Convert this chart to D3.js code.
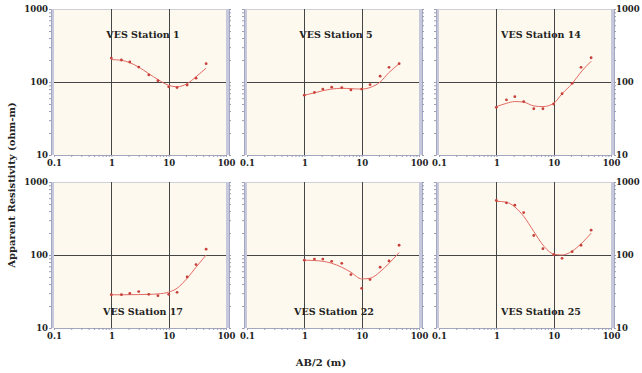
<!DOCTYPE html>
<html>
<head>
<meta charset="utf-8">
<script src="https://cdn.jsdelivr.net/npm/d3@7"></script>
<style>
  body { margin: 0; background: #fff; }
  svg text { font-family: "DejaVu Serif", serif; font-weight: bold; fill: #222; }
</style>
</head>
<body>
<svg id="chart" width="642" height="373"></svg>
<script>
// AB/2 spacing (m) - same for every station
const spacing = [1, 1.5, 2.1, 3, 4.5, 6.5, 10, 14, 21, 30, 45]

const stationNames = ['VES Station 1', 'VES Station 5', 'VES Station 14',
                      'VES Station 17', 'VES Station 22', 'VES Station 25']

// observed apparent resistivity (ohm-m)
const obs1  = [213, 200, 188, 160, 125, 104, 86, 84, 91, 113, 178]
const obs5  = [66, 72, 80, 85, 84, 78, 80, 92, 120, 159, 178]
const obs14 = [45, 57, 63, 54, 43, 43, 50, 69, 96, 159, 215]
const obs17 = [28.6, 28.6, 29.8, 31.5, 28.9, 27.7, 28.9, 30.8, 50, 74, 120]
const obs22 = [85, 88, 88, 82, 77, 54, 35, 46, 68, 83, 136]
const obs25 = [558, 518, 481, 381, 185, 122, 101, 90, 111, 136, 219]

// fitted model curves
const fit1  = [203, 198, 184, 160, 130, 108, 90, 86, 95, 118, 155]
const fit5  = [66, 71, 76, 80, 82, 81, 80, 84, 100, 135, 178]
const fit14 = [46, 51, 54, 53, 47, 46, 51, 69, 95, 137, 192]
const fit17 = [28.5, 28.5, 28.6, 28.7, 28.9, 29.3, 31, 35, 48, 68, 100]
const fit22 = [85, 84, 82, 77, 68, 58, 47, 48, 59, 77, 108]
const fit25 = [545, 529, 456, 339, 210, 137, 103, 100, 113, 142, 199]

const observed = [obs1, obs5, obs14, obs17, obs22, obs25]
const fitted = [fit1, fit5, fit14, fit17, fit22, fit25]

const xTicks = [0.1, 1, 10, 100]
const yTicks = [10, 100, 1000]

const svg = d3.select('#chart')

// panel layout
const colX = [54, 247, 439]
const rowY = [9, 182]
const pw = 172, ph = 146
const titlePos = [[143, 38], [336, 38], [541, 38], [143, 315], [334, 315], [541, 315]]

stationNames.forEach(function(name, i) {
  const col = i % 3, row = Math.floor(i / 3)
  const x0 = colX[col], y0 = rowY[row]

  const x = d3.scaleLog().domain([0.1, 100]).range([x0, x0 + pw])
  const y = d3.scaleLog().domain([10, 1000]).range([y0 + ph, y0])

  const g = svg.append('g')

  g.append('rect')
    .attr('x', x0).attr('y', y0)
    .attr('width', pw).attr('height', ph)
    .attr('fill', '#fdf9ef')

  // top border
  g.append('line')
    .attr('x1', x0).attr('x2', x0 + pw)
    .attr('y1', y0 + 0.5).attr('y2', y0 + 0.5)
    .attr('stroke', '#d0d0d8')

  // grid lines
  g.selectAll('.vgrid').data([1, 10]).join('line')
    .attr('x1', d => Math.round(x(d)) + 0.5).attr('x2', d => Math.round(x(d)) + 0.5)
    .attr('y1', y0).attr('y2', y0 + ph)
    .attr('stroke', '#454545')
  g.append('line')
    .attr('x1', x0).attr('x2', x0 + pw)
    .attr('y1', Math.round(y(100)) + 0.5).attr('y2', Math.round(y(100)) + 0.5)
    .attr('stroke', '#454545')

  // side bands
  g.selectAll('.band').data([x0 - 1.5, x0 + pw + 1.5]).join('line')
    .attr('x1', d => d).attr('x2', d => d)
    .attr('y1', y0).attr('y2', y0 + ph)
    .attr('stroke', '#c6c8de').attr('stroke-width', 3)

  // left axis
  const yl = g.append('g')
    .attr('transform', 'translate(' + (x0 - 3) + ',0)')
    .call(d3.axisLeft(y).tickValues(y.ticks()).tickSize(2)
      .tickFormat(d => (col === 0 && yTicks.includes(d)) ? d : ''))
  // right axis
  const yr = g.append('g')
    .attr('transform', 'translate(' + (x0 + pw + 3) + ',0)')
    .call(d3.axisRight(y).tickValues(y.ticks()).tickSize(2)
      .tickFormat(d => (col === 2 && yTicks.includes(d)) ? d : ''))
  // bottom axis
  const xb = g.append('g')
    .attr('transform', 'translate(0,' + (y0 + ph) + ')')
    .call(d3.axisBottom(x).tickValues(x.ticks()).tickSize(2)
      .tickFormat(d => xTicks.includes(d) ? d : ''))

  ;[yl, yr, xb].forEach(function(ax) {
    ax.select('.domain').attr('stroke', '#a4a7c0')
    ax.selectAll('.tick line').attr('stroke', '#9a9cb4')
    ax.selectAll('text').attr('font-size', 8.5).attr('fill', '#222')
      .style('font-family', '"DejaVu Serif", serif').style('font-weight', 'bold')
  })
  yl.selectAll('text').attr('x', -3)
  yr.selectAll('text').attr('x', 2)
  xb.selectAll('text').attr('y', 5)

  // fitted curve
  const pts = spacing.map((s, k) => [x(s), y(fitted[i][k])])
  g.append('path')
    .attr('d', d3.line().curve(d3.curveMonotoneX)(pts))
    .attr('fill', 'none')
    .attr('stroke', '#e26a62')
    .attr('stroke-width', 1)

  // observations
  g.selectAll('.pt').data(spacing).join('circle')
    .attr('cx', (s) => x(s))
    .attr('cy', (s, k) => y(observed[i][k]))
    .attr('r', 1.4)
    .attr('fill', '#c8403a')

  g.append('text')
    .attr('x', titlePos[i][0]).attr('y', titlePos[i][1])
    .attr('text-anchor', 'middle')
    .attr('font-size', 9.5)
    .text(name)
})

svg.append('text')
  .attr('transform', 'translate(15,185) rotate(-90)')
  .attr('text-anchor', 'middle')
  .attr('font-size', 10)
  .text('Apparent Resistivity (ohm-m)')

svg.append('text')
  .attr('x', 321).attr('y', 366)
  .attr('text-anchor', 'middle')
  .attr('font-size', 10)
  .text('AB/2 (m)')
</script>
</body>
</html>
